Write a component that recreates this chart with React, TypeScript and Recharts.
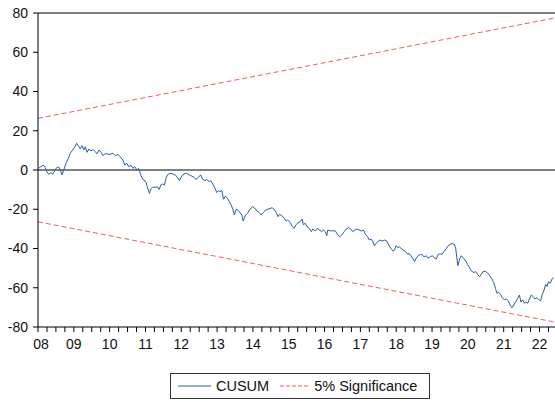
import { LineChart, Line, XAxis, YAxis, ReferenceLine } from 'recharts';

// CUSUM test, observation dates as decimal years
const cusumDates = [
  2008.02, 2008.08, 2008.15, 2008.2, 2008.25, 2008.3, 2008.36, 2008.41, 2008.46, 2008.52,
  2008.58, 2008.62, 2008.67, 2008.72, 2008.78, 2008.85, 2008.9, 2008.97, 2009.03, 2009.08,
  2009.14, 2009.18, 2009.23, 2009.28, 2009.32, 2009.37, 2009.42, 2009.48, 2009.54, 2009.6,
  2009.65, 2009.7, 2009.76, 2009.82, 2009.88, 2009.95, 2010.01, 2010.09, 2010.16, 2010.23,
  2010.29, 2010.37, 2010.42, 2010.48, 2010.53, 2010.59, 2010.65, 2010.7, 2010.76, 2010.81,
  2010.87, 2010.92, 2010.96, 2011.02, 2011.05, 2011.11, 2011.16, 2011.2, 2011.27, 2011.33,
  2011.38, 2011.43, 2011.48, 2011.53, 2011.58, 2011.64, 2011.71, 2011.76, 2011.83, 2011.89,
  2011.95, 2012.01, 2012.08, 2012.15, 2012.23, 2012.29, 2012.36, 2012.41, 2012.48, 2012.54,
  2012.6, 2012.66, 2012.71, 2012.78, 2012.82, 2012.88, 2012.94, 2012.99, 2013.04, 2013.08,
  2013.13, 2013.18, 2013.23, 2013.29, 2013.34, 2013.39, 2013.44, 2013.48, 2013.53, 2013.58,
  2013.62, 2013.69, 2013.73, 2013.78, 2013.85, 2013.92, 2013.99, 2014.04, 2014.11, 2014.17,
  2014.23, 2014.29, 2014.36, 2014.42, 2014.48, 2014.54, 2014.6, 2014.65, 2014.7, 2014.74,
  2014.81, 2014.87, 2014.93, 2014.97, 2015.04, 2015.1, 2015.15, 2015.2, 2015.25, 2015.32,
  2015.37, 2015.41, 2015.46, 2015.51, 2015.57, 2015.63, 2015.67, 2015.74, 2015.8, 2015.86,
  2015.92, 2015.97, 2016.02, 2016.06, 2016.09, 2016.16, 2016.23, 2016.3, 2016.36, 2016.42,
  2016.48, 2016.55, 2016.6, 2016.67, 2016.73, 2016.79, 2016.85, 2016.9, 2016.97, 2017.03,
  2017.09, 2017.14, 2017.2, 2017.25, 2017.3, 2017.35, 2017.39, 2017.44, 2017.5, 2017.55,
  2017.62, 2017.68, 2017.74, 2017.8, 2017.85, 2017.91, 2017.95, 2018.0, 2018.05, 2018.09,
  2018.15, 2018.2, 2018.26, 2018.32, 2018.36, 2018.41, 2018.47, 2018.51, 2018.56, 2018.61,
  2018.67, 2018.73, 2018.78, 2018.84, 2018.89, 2018.95, 2019.01, 2019.06, 2019.12, 2019.17,
  2019.23, 2019.28, 2019.34, 2019.4, 2019.45, 2019.51, 2019.56, 2019.62, 2019.66, 2019.7,
  2019.72, 2019.77, 2019.82, 2019.88, 2019.94, 2019.99, 2020.05, 2020.1, 2020.16, 2020.22,
  2020.27, 2020.33, 2020.37, 2020.42, 2020.48, 2020.53, 2020.59, 2020.63, 2020.67, 2020.72,
  2020.77, 2020.81, 2020.86, 2020.91, 2020.96, 2021.02, 2021.07, 2021.13, 2021.18, 2021.23,
  2021.28, 2021.33, 2021.39, 2021.44, 2021.48, 2021.53, 2021.58, 2021.62, 2021.67, 2021.72,
  2021.77, 2021.82, 2021.87, 2021.93, 2021.99, 2022.03, 2022.08, 2022.13, 2022.17, 2022.21,
  2022.25, 2022.3, 2022.35, 2022.39,
];

const cusumValues = [
  0.9, 1.7, 2.5, 1.2, -0.9, -2.2, -1.3, -2.2, -0.5, 1.2,
  1.5, 0.2, -2.5, 0, 3.4, 6, 8.5, 10.2, 11.9, 13.6,
  11.9, 10.7, 12.4, 10.2, 11.9, 9, 10.7, 9.7, 10.4, 9.3,
  8.2, 10.2, 9, 7.3, 8.5, 8, 8, 8.5, 7.3, 8,
  6.8, 5.1, 2.5, 3.4, 1.7, 2.5, 0.8, 1.7, 0, 0.8,
  -2.5, -4.6, -5.1, -6.5, -8.5, -11.9, -9.3, -8.8, -8.8, -8.5,
  -9.9, -7.6, -7.1, -7.6, -3.7, -2, -1.7, -2, -2.5, -3.7,
  -5.4, -3.1, -2, -1.7, -2.5, -3.1, -3.7, -4.8, -3.7, -2.5,
  -4.8, -5.4, -4.8, -5.9, -5.4, -7.1, -9.3, -11.5, -10.5, -11,
  -10.5, -14.9, -13.3, -14.4, -16.1, -17.8, -20, -22.9, -20, -20.4,
  -21.2, -23, -26, -23.3, -22.1, -19.9, -18.7, -19.2, -20.9, -21.6,
  -22.9, -21.6, -20.4, -19.9, -19.6, -19.2, -20.4, -21.6, -23.8, -22.6,
  -23.3, -24.6, -26, -25.5, -26.7, -28.9, -29.7, -27.9, -27.1, -26.3,
  -25, -27.9, -27.1, -28.9, -29.7, -31.4, -30.1, -31, -29.7, -30.6,
  -31.4, -30.6, -31.4, -33.5, -30.6, -31, -31, -31, -32.8, -34,
  -33.1, -31.4, -30.1, -29.4, -30.1, -31.4, -30.6, -30.1, -30.6, -31.1,
  -30.6, -32.8, -34, -35.7, -35.2, -36.5, -38.6, -37.4, -36.2, -35.7,
  -36.2, -35.7, -36.2, -38.6, -39.9, -41.3, -40.8, -38.6, -39.6, -39.1,
  -40.3, -40.8, -41.6, -43, -42.5, -43.7, -45.3, -46.7, -44.9, -43.7,
  -43, -43.3, -44.2, -43.7, -44.9, -44.2, -43.7, -44.7, -45.3, -43,
  -42.7, -43, -41.3, -39.9, -38.6, -37.9, -37.4, -37.9, -39.9, -45.9,
  -48.8, -45.3, -43.7, -45, -46.4, -48.1, -49.8, -51.5, -52.2, -51.8,
  -53.2, -54.4, -53.2, -51.8, -51.5, -52.2, -53.2, -54.4, -55.5, -57.2,
  -60.3, -62.8, -62.3, -63.3, -65.1, -66.2, -65.7, -66.7, -68.8, -70.2,
  -68.8, -67.3, -65.4, -63.7, -67.3, -66.2, -67.9, -67.3, -67.9, -65.7,
  -63.7, -64.5, -65.7, -65.1, -66.2, -66.7, -63.3, -61.1, -58.3, -59.4,
  -56.9, -57.7, -55.5, -54.9,
];

// 5% significance bounds (straight lines)
const boundDates = [2008, 2022.6];
const upperBound = [26.3, 78.1];
const lowerBound = [-26.4, -78.1];

const yTicks = [-80, -60, -40, -20, 0, 20, 40, 60, 80];
const yearLabels = ['08', '09', '10', '11', '12', '13', '14', '15', '16', '17', '18', '19', '20', '21', '22'];
const firstYear = 2008;

const seriesNames = ['CUSUM', '5% Significance'];
const blue = '#2b5ca8';
const red = '#f25c5c';
const font = '"Liberation Sans", Arial, sans-serif';

const cusumData = cusumDates.map((t, i) => ({ t, v: cusumValues[i] }));
const upperData = boundDates.map((t, i) => ({ t, v: upperBound[i] }));
const lowerData = boundDates.map((t, i) => ({ t, v: lowerBound[i] }));

// quarter ticks along the date axis
const xTicks: number[] = [];
yearLabels.forEach((_, i) => {
  for (let q = 0; q < 4; q++) {
    const t = firstYear + i + q * 0.25;
    if (t <= 2022.5) xTicks.push(t);
  }
});

const XTick = (props: any) => {
  const { x, y, payload } = props;
  const v = payload.value as number;
  const isYear = Math.abs(v - Math.round(v)) < 1e-6;
  const label = isYear ? yearLabels[Math.round(v) - firstYear] : null;
  const shift = Math.round(v) === firstYear ? 3 : 0;
  return (
    <g>
      <line x1={x} x2={x} y1={y} y2={y + 5} stroke="#000" />
      {label && (
        <text x={x + shift} y={y + 22} textAnchor="middle" fill="#111" fontSize={14} fontFamily={font}>
          {label}
        </text>
      )}
    </g>
  );
};

const LegendBox = () => (
  <div
    style={{
      position: 'absolute',
      left: 170,
      top: 373,
      width: 258,
      height: 24,
      border: '1px solid #333',
      background: '#fff',
      fontFamily: font,
      fontSize: 14.5,
      color: '#111',
      display: 'flex',
      alignItems: 'center',
    }}
  >
    <svg width={34} height={10} style={{ marginLeft: 7 }}>
      <line x1={0} x2={33} y1={5} y2={5} stroke={blue} strokeWidth={1} />
    </svg>
    <span style={{ marginLeft: 4 }}>{seriesNames[0]}</span>
    <svg width={28} height={10} style={{ marginLeft: 11 }}>
      <line x1={0} x2={28} y1={5} y2={5} stroke={red} strokeWidth={1} strokeDasharray="4 2" />
    </svg>
    <span style={{ marginLeft: 6 }}>{seriesNames[1]}</span>
  </div>
);

const App = () => (
  <div style={{ position: 'absolute', left: 0, top: 0, width: 555, height: 402, overflow: 'hidden', background: '#fff' }}>
    <LineChart width={569} height={402} margin={{ top: 13, right: 8, bottom: 45, left: 0 }}>
      <XAxis
        type="number"
        dataKey="t"
        domain={[2008, 2022.6]}
        ticks={xTicks}
        interval={0}
        tickSize={0}
        tickMargin={0}
        tickLine={false}
        tick={<XTick />}
        height={30}
        axisLine={{ stroke: '#000' }}
        allowDataOverflow
      />
      <YAxis
        type="number"
        domain={[-80, 80]}
        ticks={yTicks}
        interval={0}
        width={38}
        tickSize={5}
        tickMargin={5}
        axisLine={{ stroke: '#000' }}
        tickLine={{ stroke: '#000' }}
        tick={{ fill: '#111', fontSize: 14, fontFamily: font }}
      />
      <ReferenceLine y={80} stroke="#000" />
      <ReferenceLine y={0} stroke="#000" />
      <ReferenceLine x={2022.6} stroke="#000" />
      <Line data={upperData} dataKey="v" type="linear" stroke={red} strokeWidth={1} strokeDasharray="5 3" dot={false} isAnimationActive={false} />
      <Line data={lowerData} dataKey="v" type="linear" stroke={red} strokeWidth={1} strokeDasharray="5 3" dot={false} isAnimationActive={false} />
      <Line data={cusumData} dataKey="v" type="linear" stroke={blue} strokeWidth={1} dot={false} isAnimationActive={false} />
    </LineChart>
    <LegendBox />
  </div>
);

export default App;
